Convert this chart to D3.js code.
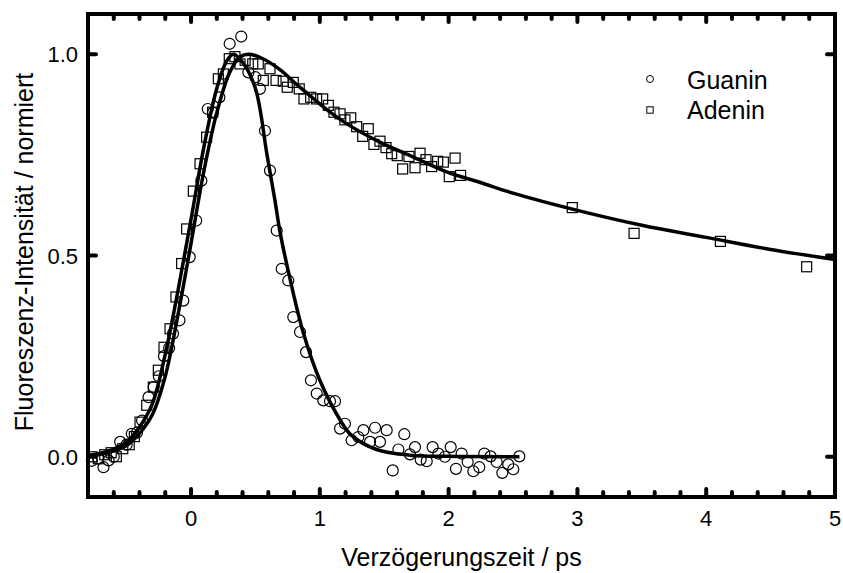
<!DOCTYPE html>
<html>
<head>
<meta charset="utf-8">
<script src="https://cdn.jsdelivr.net/npm/d3@7"></script>
<style>
    body { margin: 0; background: #fff; }
    svg text { font-family: "Liberation Sans", Arial, sans-serif; fill: #000; }
</style>
</head>
<body>
<svg id="chart" width="843" height="573"></svg>
<script>
(function () {
    'use strict';

    // Guanin messpunkte (Zeit in ps, normierte Intensitaet)
    var guaninT = [-0.77, -0.72, -0.68, -0.64, -0.60, -0.55, -0.50, -0.46, -0.42, -0.38,
        -0.33, -0.29, -0.25, -0.21, -0.17, -0.14, -0.09, -0.06, -0.01, 0.04,
        0.08, 0.13, 0.17, 0.22, 0.30, 0.39, 0.445, 0.50, 0.535, 0.574,
        0.613, 0.665, 0.704, 0.755, 0.794, 0.846, 0.893, 0.931, 0.976, 1.027,
        1.079, 1.118, 1.157, 1.195, 1.247, 1.299, 1.338, 1.39, 1.429, 1.467,
        1.519, 1.566, 1.61, 1.656, 1.70, 1.739, 1.783, 1.83, 1.876, 1.92,
        1.971, 2.016, 2.057, 2.101, 2.148, 2.192, 2.238, 2.277, 2.326, 2.373,
        2.417, 2.463, 2.502, 2.549];
    var guaninV = [-0.01, -0.005, -0.026, -0.009, 0.0, 0.037, 0.03, 0.057, 0.06, 0.09,
        0.148, 0.173, 0.20, 0.25, 0.27, 0.306, 0.339, 0.388, 0.496, 0.587,
        0.686, 0.864, 0.855, 0.893, 1.026, 1.044, 0.955, 0.943, 0.914, 0.81,
        0.711, 0.562, 0.467, 0.438, 0.347, 0.31, 0.26, 0.19, 0.157, 0.14,
        0.138, 0.138, 0.07, 0.082, 0.041, 0.049, 0.066, 0.037, 0.072, 0.037,
        0.066, -0.034, 0.018, 0.056, 0.006, 0.024, -0.007, -0.011, 0.024, 0.008,
        0.0, 0.024, -0.03, 0.008, -0.013, -0.036, -0.026, 0.008, 0.001, -0.013,
        -0.04, -0.019, -0.031, 0.001];

    // Adenin messpunkte
    var adeninT = [-0.77, -0.72, -0.67, -0.62, -0.58, -0.53, -0.48, -0.44, -0.396, -0.344,
        -0.293, -0.254, -0.21, -0.163, -0.117, -0.073, -0.034, 0.018, 0.07, 0.121,
        0.168, 0.212, 0.251, 0.297, 0.341, 0.38, 0.42, 0.479, 0.522, 0.561,
        0.613, 0.66, 0.716, 0.747, 0.794, 0.84, 0.877, 0.929, 0.975, 1.022,
        1.066, 1.11, 1.157, 1.195, 1.24, 1.286, 1.333, 1.376, 1.42, 1.467,
        1.514, 1.558, 1.601, 1.643, 1.692, 1.739, 1.778, 1.824, 1.868, 1.915,
        1.959, 2.005, 2.05, 2.093, 2.96, 3.44, 4.11, 4.78];
    var adeninV = [0.0, -0.005, 0.005, 0.01, 0.0, 0.02, 0.03, 0.05, 0.086, 0.128,
        0.173, 0.215, 0.272, 0.318, 0.397, 0.48, 0.566, 0.66, 0.728, 0.794,
        0.856, 0.939, 0.951, 0.989, 0.994, 0.976, 0.985, 0.976, 0.976, 0.935,
        0.964, 0.935, 0.933, 0.918, 0.93, 0.914, 0.889, 0.893, 0.889, 0.889,
        0.873, 0.856, 0.852, 0.837, 0.842, 0.82, 0.796, 0.815, 0.776, 0.784,
        0.768, 0.753, 0.748, 0.715, 0.746, 0.718, 0.754, 0.738, 0.721, 0.734,
        0.732, 0.696, 0.742, 0.699, 0.619, 0.555, 0.535, 0.472];

    // Anpassungskurven
    var guaninFitT = [-0.8, -0.65, -0.5, -0.4, -0.3, -0.2, -0.1, 0.0, 0.1, 0.2,
        0.28, 0.33, 0.4, 0.5, 0.59, 0.65, 0.69, 0.77, 0.87, 1.0,
        1.16, 1.24, 1.44, 1.7, 2.0, 2.55];
    var guaninFitV = [0.003, 0.013, 0.037, 0.074, 0.132, 0.255, 0.415, 0.59, 0.77, 0.915,
        0.985, 1.0, 0.98, 0.915, 0.75, 0.64, 0.56, 0.44, 0.31, 0.19,
        0.09, 0.055, 0.018, 0.004, 0.001, 0.0];
    var adeninFitT = [-0.8, -0.65, -0.5, -0.4, -0.3, -0.2, -0.1, 0.0, 0.1, 0.2,
        0.3, 0.38, 0.45, 0.55, 0.69, 0.82, 0.95, 1.08, 1.21, 1.47,
        1.73, 1.99, 2.24, 2.5, 3.0, 3.5, 4.0, 4.5, 5.0];
    var adeninFitV = [0.002, 0.01, 0.028, 0.058, 0.105, 0.2, 0.355, 0.53, 0.71, 0.855,
        0.955, 0.993, 1.0, 0.99, 0.962, 0.925, 0.89, 0.856, 0.827, 0.781,
        0.744, 0.707, 0.682, 0.655, 0.612, 0.575, 0.545, 0.515, 0.49];

    var xMajorTicks = [0, 1, 2, 3, 4, 5];
    var yTicks = [0.0, 0.5, 1.0];
    var legendNames = ['Guanin', 'Adenin'];

    var margin = { left: 88, right: 8, top: 14, bottom: 76 };
    var width = 843, height = 573;

    var svg = d3.select('#chart');

    var x = d3.scaleLinear()
        .domain([-0.8, 5])
        .range([margin.left, width - margin.right]);
    var y = d3.scaleLinear()
        .domain([-0.1, 1.1])
        .range([height - margin.bottom, margin.top]);

    // Nebenstriche alle 0.2 ps, nur innerhalb des Bereichs
    var xMinorTicks = d3.range(-3, 25).map(function (i) { return i / 5; })
        .filter(function (d) { return Math.abs(d - Math.round(d)) > 1e-6; });

    var plotBottom = y.range()[0], plotTop = y.range()[1];
    var plotLeft = x.range()[0], plotRight = x.range()[1];

    var axisWidth = 4;

    function drawTicks(g, values, len) {
        g.selectAll('line.b').data(values).enter().append('line')
            .attr('x1', function (d) { return x(d); })
            .attr('x2', function (d) { return x(d); })
            .attr('y1', plotBottom)
            .attr('y2', plotBottom - len);
        g.selectAll('line.t').data(values).enter().append('line')
            .attr('x1', function (d) { return x(d); })
            .attr('x2', function (d) { return x(d); })
            .attr('y1', plotTop)
            .attr('y2', plotTop + len);
    }
    var ticks = svg.append('g')
        .attr('stroke', '#000')
        .attr('stroke-width', 4)
        .attr('stroke-linecap', 'round');
    drawTicks(ticks.append('g'), xMajorTicks, 8);
    drawTicks(ticks.append('g'), xMinorTicks, 5);

    ticks.append('g').selectAll('line').data(yTicks).enter().append('line')
        .attr('x1', plotLeft).attr('x2', plotLeft + 8)
        .attr('y1', function (d) { return y(d); })
        .attr('y2', function (d) { return y(d); });
    ticks.append('g').selectAll('line').data(yTicks).enter().append('line')
        .attr('x1', plotRight).attr('x2', plotRight - 8)
        .attr('y1', function (d) { return y(d); })
        .attr('y2', function (d) { return y(d); });

    // Tick-Beschriftungen
    svg.append('g').selectAll('text').data(xMajorTicks).enter().append('text')
        .attr('x', function (d) { return x(d); })
        .attr('y', plotBottom + 29)
        .attr('text-anchor', 'middle')
        .style('font-size', '22px')
        .text(function (d) { return d3.format('d')(d); });

    svg.append('g').selectAll('text').data(yTicks).enter().append('text')
        .attr('x', plotLeft - 10)
        .attr('y', function (d) { return y(d) + 8; })
        .attr('text-anchor', 'end')
        .style('font-size', '22px')
        .text(function (d) { return d3.format('.1f')(d); });

    // Achsentitel
    svg.append('text')
        .attr('x', (plotLeft + plotRight) / 2)
        .attr('y', 566)
        .attr('text-anchor', 'middle')
        .style('font-size', '25px')
        .text('Verzögerungszeit / ps');

    svg.append('text')
        .attr('transform', 'translate(33,252) rotate(-90)')
        .attr('text-anchor', 'middle')
        .style('font-size', '25px')
        .text('Fluoreszenz-Intensität / normiert');

    // Messpunkte
    var guanin = guaninT.map(function (t, i) { return [t, guaninV[i]]; });
    var adenin = adeninT.map(function (t, i) { return [t, adeninV[i]]; });

    svg.append('g').selectAll('rect').data(adenin).enter().append('rect')
        .attr('x', function (d) { return x(d[0]) - 5; })
        .attr('y', function (d) { return y(d[1]) - 5; })
        .attr('width', 10)
        .attr('height', 10)
        .attr('fill', 'none')
        .attr('stroke', '#000')
        .attr('stroke-width', 1.2);

    svg.append('g').selectAll('circle').data(guanin).enter().append('circle')
        .attr('cx', function (d) { return x(d[0]); })
        .attr('cy', function (d) { return y(d[1]); })
        .attr('r', 5.5)
        .attr('fill', 'none')
        .attr('stroke', '#000')
        .attr('stroke-width', 1.2);

    // Anpassungskurven
    var line = d3.line()
        .x(function (d) { return x(d[0]); })
        .y(function (d) { return y(d[1]); })
        .curve(d3.curveCatmullRom);

    var guaninFit = guaninFitT.map(function (t, i) { return [t, guaninFitV[i]]; });
    var adeninFit = adeninFitT.map(function (t, i) { return [t, adeninFitV[i]]; });

    [adeninFit, guaninFit].forEach(function (fit) {
        svg.append('path')
            .datum(fit)
            .attr('d', line)
            .attr('fill', 'none')
            .attr('stroke', '#000')
            .attr('stroke-width', 3.5);
    });

    // Rahmen
    svg.append('rect')
        .attr('x', plotLeft)
        .attr('y', plotTop)
        .attr('width', plotRight - plotLeft)
        .attr('height', plotBottom - plotTop)
        .attr('fill', 'none')
        .attr('stroke', '#000')
        .attr('stroke-width', axisWidth);

    // Legende
    var legend = svg.append('g').attr('transform', 'translate(650,79)');
    legend.append('circle')
        .attr('cx', 0).attr('cy', 0).attr('r', 3.5)
        .attr('fill', 'none').attr('stroke', '#000').attr('stroke-width', 1);
    legend.append('rect')
        .attr('x', -3.2).attr('y', 27.8).attr('width', 6.4).attr('height', 6.4)
        .attr('fill', 'none').attr('stroke', '#000').attr('stroke-width', 1);
    legend.selectAll('text').data(legendNames).enter().append('text')
        .attr('x', 37)
        .attr('y', function (d, i) { return 9.5 + i * 30; })
        .style('font-size', '25px')
        .text(function (d) { return d; });
})();
</script>
</body>
</html>
